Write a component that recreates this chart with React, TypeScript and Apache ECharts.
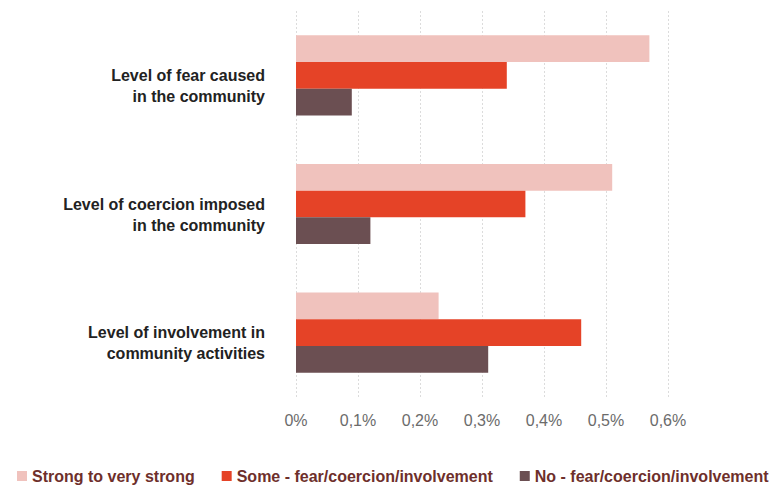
import React, { useEffect, useRef } from "react";
import * as echarts from "echarts";

const categories = [
  "Level of fear caused\nin the community",
  "Level of coercion imposed\nin the community",
  "Level of involvement in\ncommunity activities",
];
const seriesNames = [
  "Strong to very strong",
  "Some - fear/coercion/involvement",
  "No - fear/coercion/involvement",
];
const strongValues = [0.57, 0.51, 0.23];
const someValues = [0.34, 0.37, 0.46];
const noValues = [0.09, 0.12, 0.31];
const colors = ["#f0c2bd", "#e54327", "#6b4f52"];

export default function App() {
  const ref = useRef<HTMLDivElement>(null);
  useEffect(() => {
    if (!ref.current) return;
    const chart = echarts.init(ref.current, null, { renderer: "svg" });
    const data = [strongValues, someValues, noValues];
    chart.setOption({
      animation: false,
      grid: { left: 296, right: 113, top: 11, bottom: 88, containLabel: false },
      legend: {
        left: 12,
        top: 463,
        icon: "rect",
        itemWidth: 10,
        itemHeight: 10,
        itemGap: 27,
        textStyle: {
          fontFamily: "Liberation Sans",
          fontWeight: "bold",
          fontSize: 16,
          color: "#6e2f2b",
        },
        data: seriesNames,
      },
      xAxis: {
        type: "value",
        min: 0,
        max: 0.6,
        interval: 0.1,
        axisLine: { show: false },
        axisTick: { show: false },
        splitLine: { show: true, lineStyle: { color: "#dcdcdc", type: [2, 2], width: 1 } },
        axisLabel: {
          margin: 15,
          fontFamily: "Liberation Sans",
          fontSize: 16,
          color: "#6b6b6b",
          formatter: (v: number) => (v === 0 ? "0%" : v.toFixed(1).replace(".", ",") + "%"),
        },
      },
      yAxis: {
        type: "category",
        inverse: true,
        data: categories,
        axisLine: { show: false },
        axisTick: { show: false },
        axisLabel: {
          margin: 31,
          fontFamily: "Liberation Sans",
          fontWeight: "bold",
          fontSize: 16,
          lineHeight: 21,
          color: "#222222",
          formatter: (v: string) => "\n" + v,
        },
      },
      series: seriesNames.map((name, i) => ({
        name,
        type: "bar",
        data: data[i],
        barGap: "0%",
        barCategoryGap: "37.7%",
        itemStyle: { color: colors[i] },
      })),
    });
    return () => chart.dispose();
  }, []);
  return <div ref={ref} style={{ width: 781, height: 485, position: "absolute", left: 0, top: 0 }} />;
}
